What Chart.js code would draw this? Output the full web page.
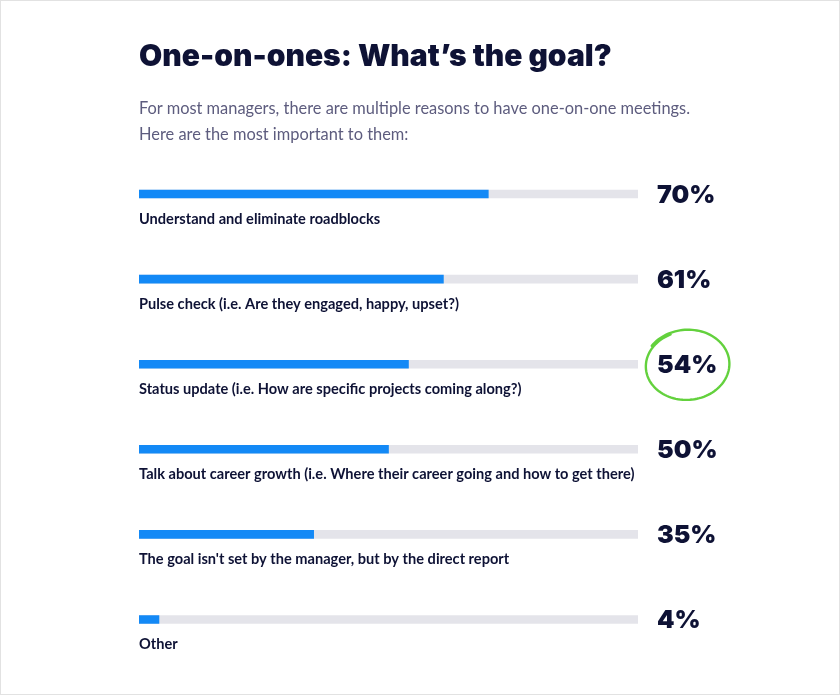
<!DOCTYPE html>
<html>
<head>
<meta charset="utf-8">
<script src="https://cdn.jsdelivr.net/npm/chart.js@4.4.1/dist/chart.umd.min.js"></script>
<style>
  html, body { margin: 0; padding: 0; background: #ffffff; }
  #wrap { position: relative; width: 840px; height: 695px; overflow: hidden; box-sizing: border-box; }
  #c { position: absolute; left: 0; top: 0; }
  .title { position: absolute; left: 139px; top: 37px; margin: 0; font-family: Inter, "DejaVu Sans", sans-serif; font-weight: 900; font-size: 30px; line-height: 36px; color: #0e1235; letter-spacing: 0px; white-space: nowrap; }
  .sub { position: absolute; left: 139px; top: 94.5px; margin: 0; font-family: Lato, "Open Sans", sans-serif; font-weight: 400; font-size: 16.4px; line-height: 26.7px; color: #5d5c7e; white-space: nowrap; }
  .frame { position: absolute; left: 0; top: 0; width: 840px; height: 695px; box-sizing: border-box; border: 1px solid #e2e2e2; pointer-events: none; }
</style>
</head>
<body>
<div id="wrap">
  <canvas id="c" width="840" height="695"></canvas>
  <h1 class="title">One-on-ones: What’s the goal?</h1>
  <p class="sub">For most managers, there are multiple reasons to have one-on-one meetings.<br>Here are the most important to them:</p>
  <div class="frame"></div>
</div>
<script>
// ---- data ----
const categories = [
  "Understand and eliminate roadblocks",
  "Pulse check (i.e. Are they engaged, happy, upset?)",
  "Status update (i.e. How are specific projects coming along?)",
  "Talk about career growth (i.e. Where their career going and how to get there)",
  "The goal isn't set by the manager, but by the direct report",
  "Other"
];
const values = [70, 61, 54, 50, 35, 4];
const trackValues = [100, 100, 100, 100, 100, 100];
const valueLabels = ["70%", "61%", "54%", "50%", "35%", "4%"];
const highlighted = ["Status update (i.e. How are specific projects coming along?)"];

// ---- styles ----
const BLUE = "#1389f6";
const TRACK = "#e4e4ea";
const DARK = "#0e1235";
const GREEN = "#63d13d";

const labelPlugin = {
  id: "labels",
  afterDatasetsDraw(chart) {
    const ctx = chart.ctx;
    const xs = chart.scales.x, ys = chart.scales.y;
    ctx.save();
    categories.forEach((cat, i) => {
      const y = ys.getPixelForValue(i);
      const x0 = xs.getPixelForValue(0);
      ctx.font = "700 14.6px Lato, 'Open Sans', sans-serif";
      ctx.fillStyle = DARK;
      ctx.textAlign = "left";
      ctx.textBaseline = "alphabetic";
      ctx.fillText(cat, x0, y + 30);
      const px = xs.getPixelForValue(100) + 19;
      ctx.font = "900 25px Inter, 'DejaVu Sans', sans-serif";
      ctx.fillText(valueLabels[i], px, y + 9);
      if (highlighted.includes(cat)) {
        const w = ctx.measureText(valueLabels[i]).width;
        const cx = px + w / 2, cy = y + 1;
        const rx = 41, ry = 34, rot = -0.08;
        ctx.beginPath();
        ctx.strokeStyle = GREEN;
        ctx.lineWidth = 2.4;
        ctx.lineCap = "round";
        const a0 = -Math.PI / 2 - 0.35;
        const total = Math.PI * 2 + 0.55;
        for (let k = 0; k <= 120; k++) {
          const t = total * k / 120;
          const a = a0 - t;
          const s = 1 + 0.05 * (t / total);
          const ex = rx * s * Math.cos(a), ey = ry * s * Math.sin(a);
          const X = cx + ex * Math.cos(rot) - ey * Math.sin(rot);
          const Y = cy + ex * Math.sin(rot) + ey * Math.cos(rot);
          if (k === 0) ctx.moveTo(X, Y); else ctx.lineTo(X, Y);
        }
        ctx.stroke();
      }
    });
    ctx.restore();
  }
};

new Chart(document.getElementById("c"), {
  type: "bar",
  data: {
    labels: categories,
    datasets: [
      { data: values, backgroundColor: BLUE, barThickness: 8, grouped: false, order: 0, borderWidth: 0 },
      { data: trackValues, backgroundColor: TRACK, barThickness: 8, grouped: false, order: 1, borderWidth: 0 }
    ]
  },
  options: {
    indexAxis: "y",
    responsive: false,
    animation: false,
    events: [],
    layout: { padding: { left: 139, right: 202, top: 151.5, bottom: 33 } },
    scales: {
      x: { display: false, min: 0, max: 100 },
      y: { display: false }
    },
    plugins: { legend: { display: false }, tooltip: { enabled: false }, title: { display: false } }
  },
  plugins: [labelPlugin]
});
</script>
</body>
</html>
